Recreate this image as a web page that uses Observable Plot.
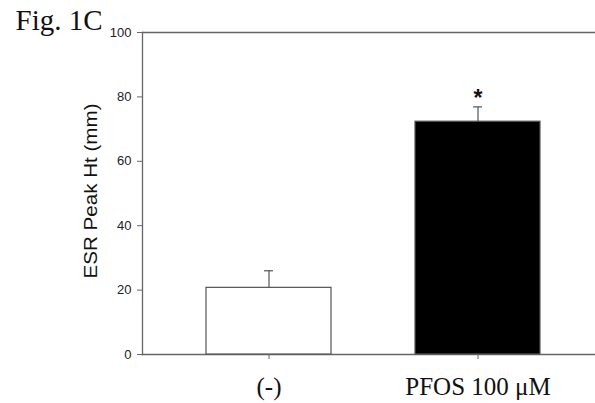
<!DOCTYPE html>
<html>
<head>
<meta charset="utf-8">
<script src="https://cdn.jsdelivr.net/npm/d3@7"></script>
<script src="https://cdn.jsdelivr.net/npm/@observablehq/plot@0.6"></script>
<style>
  html, body { margin: 0; padding: 0; background: #fff; overflow: hidden; }
</style>
</head>
<body>
<div id="chart"></div>
<script>
const categories = ["(-)", "PFOS 100 μM"];
const means = [20.7, 72.3];
const errors = [5.3, 4.6];
const sigMarks = ["", "*"];
const yTicks = [0, 20, 40, 60, 80, 100];
const figLabel = "Fig. 1C";
const yLabel = "ESR Peak Ht (mm)";

const data = categories.map((c, i) => ({cat: c, mean: means[i], err: errors[i], sig: sigMarks[i]}));

const axisColor = "#666";
const sans = "'Liberation Sans', Arial, sans-serif";
const serif = "'Liberation Serif', 'Times New Roman', serif";

const chart = Plot.plot({
  width: 595,
  height: 403,
  marginLeft: 142,
  marginRight: 0,
  marginTop: 32,
  marginBottom: 49,
  style: {background: "#fff", color: "#000"},
  x: {type: "band", domain: categories, paddingInner: 0.4, paddingOuter: 0.279, align: 0.538, axis: null},
  y: {domain: [0, 100], axis: null},
  marks: [
    Plot.ruleY([0, 100], {stroke: axisColor, strokeWidth: 1.3}),
    Plot.frame({anchor: "left", stroke: axisColor, strokeWidth: 1.3}),
    Plot.barY(data, {x: "cat", y: "mean", fill: (d, i) => i === 0 ? "white" : "black", stroke: "#555", strokeWidth: 1.2}),
    Plot.ruleX(data, {x: "cat", y1: "mean", y2: d => d.mean + d.err, stroke: "#555", strokeWidth: 1.2}),
    Plot.tickY(data, {x: "cat", y: d => d.mean + d.err, stroke: "#555", strokeWidth: 1.2, insetLeft: 58, insetRight: 58}),
    Plot.text(data, {x: "cat", y: d => d.mean + d.err, text: "sig", dy: -1, lineAnchor: "bottom", fontSize: 23, fontWeight: "bold", fontFamily: sans, fill: "#111"}),
    Plot.axisY({ticks: yTicks, tickSize: 5, tickPadding: 6, fontSize: 13, fontFamily: sans, stroke: axisColor, fill: "#222", label: null}),
    Plot.axisX({tickSize: 5, stroke: axisColor, tickFormat: () => "", label: null}),
    Plot.text(data, {x: "cat", text: "cat", frameAnchor: "bottom", dy: 32, lineAnchor: "middle", fontSize: 25, fontFamily: serif, fill: "#111"}),
    Plot.text([yLabel], {frameAnchor: "left", textAnchor: "middle", dx: -51, dy: -2.5, rotate: -90, fontSize: 18.5, fontFamily: sans, fill: "#111"}),
    Plot.text([figLabel], {frameAnchor: "top-left", dx: -127, dy: -3, textAnchor: "start", lineAnchor: "bottom", fontSize: 29, fontFamily: serif, fill: "#111"})
  ]
});
d3.select(chart).selectAll("text").filter(function() { return this.textContent === yLabel; })
  .attr("textLength", 175).attr("lengthAdjust", "spacingAndGlyphs");
document.getElementById("chart").appendChild(chart);
</script>
</body>
</html>
